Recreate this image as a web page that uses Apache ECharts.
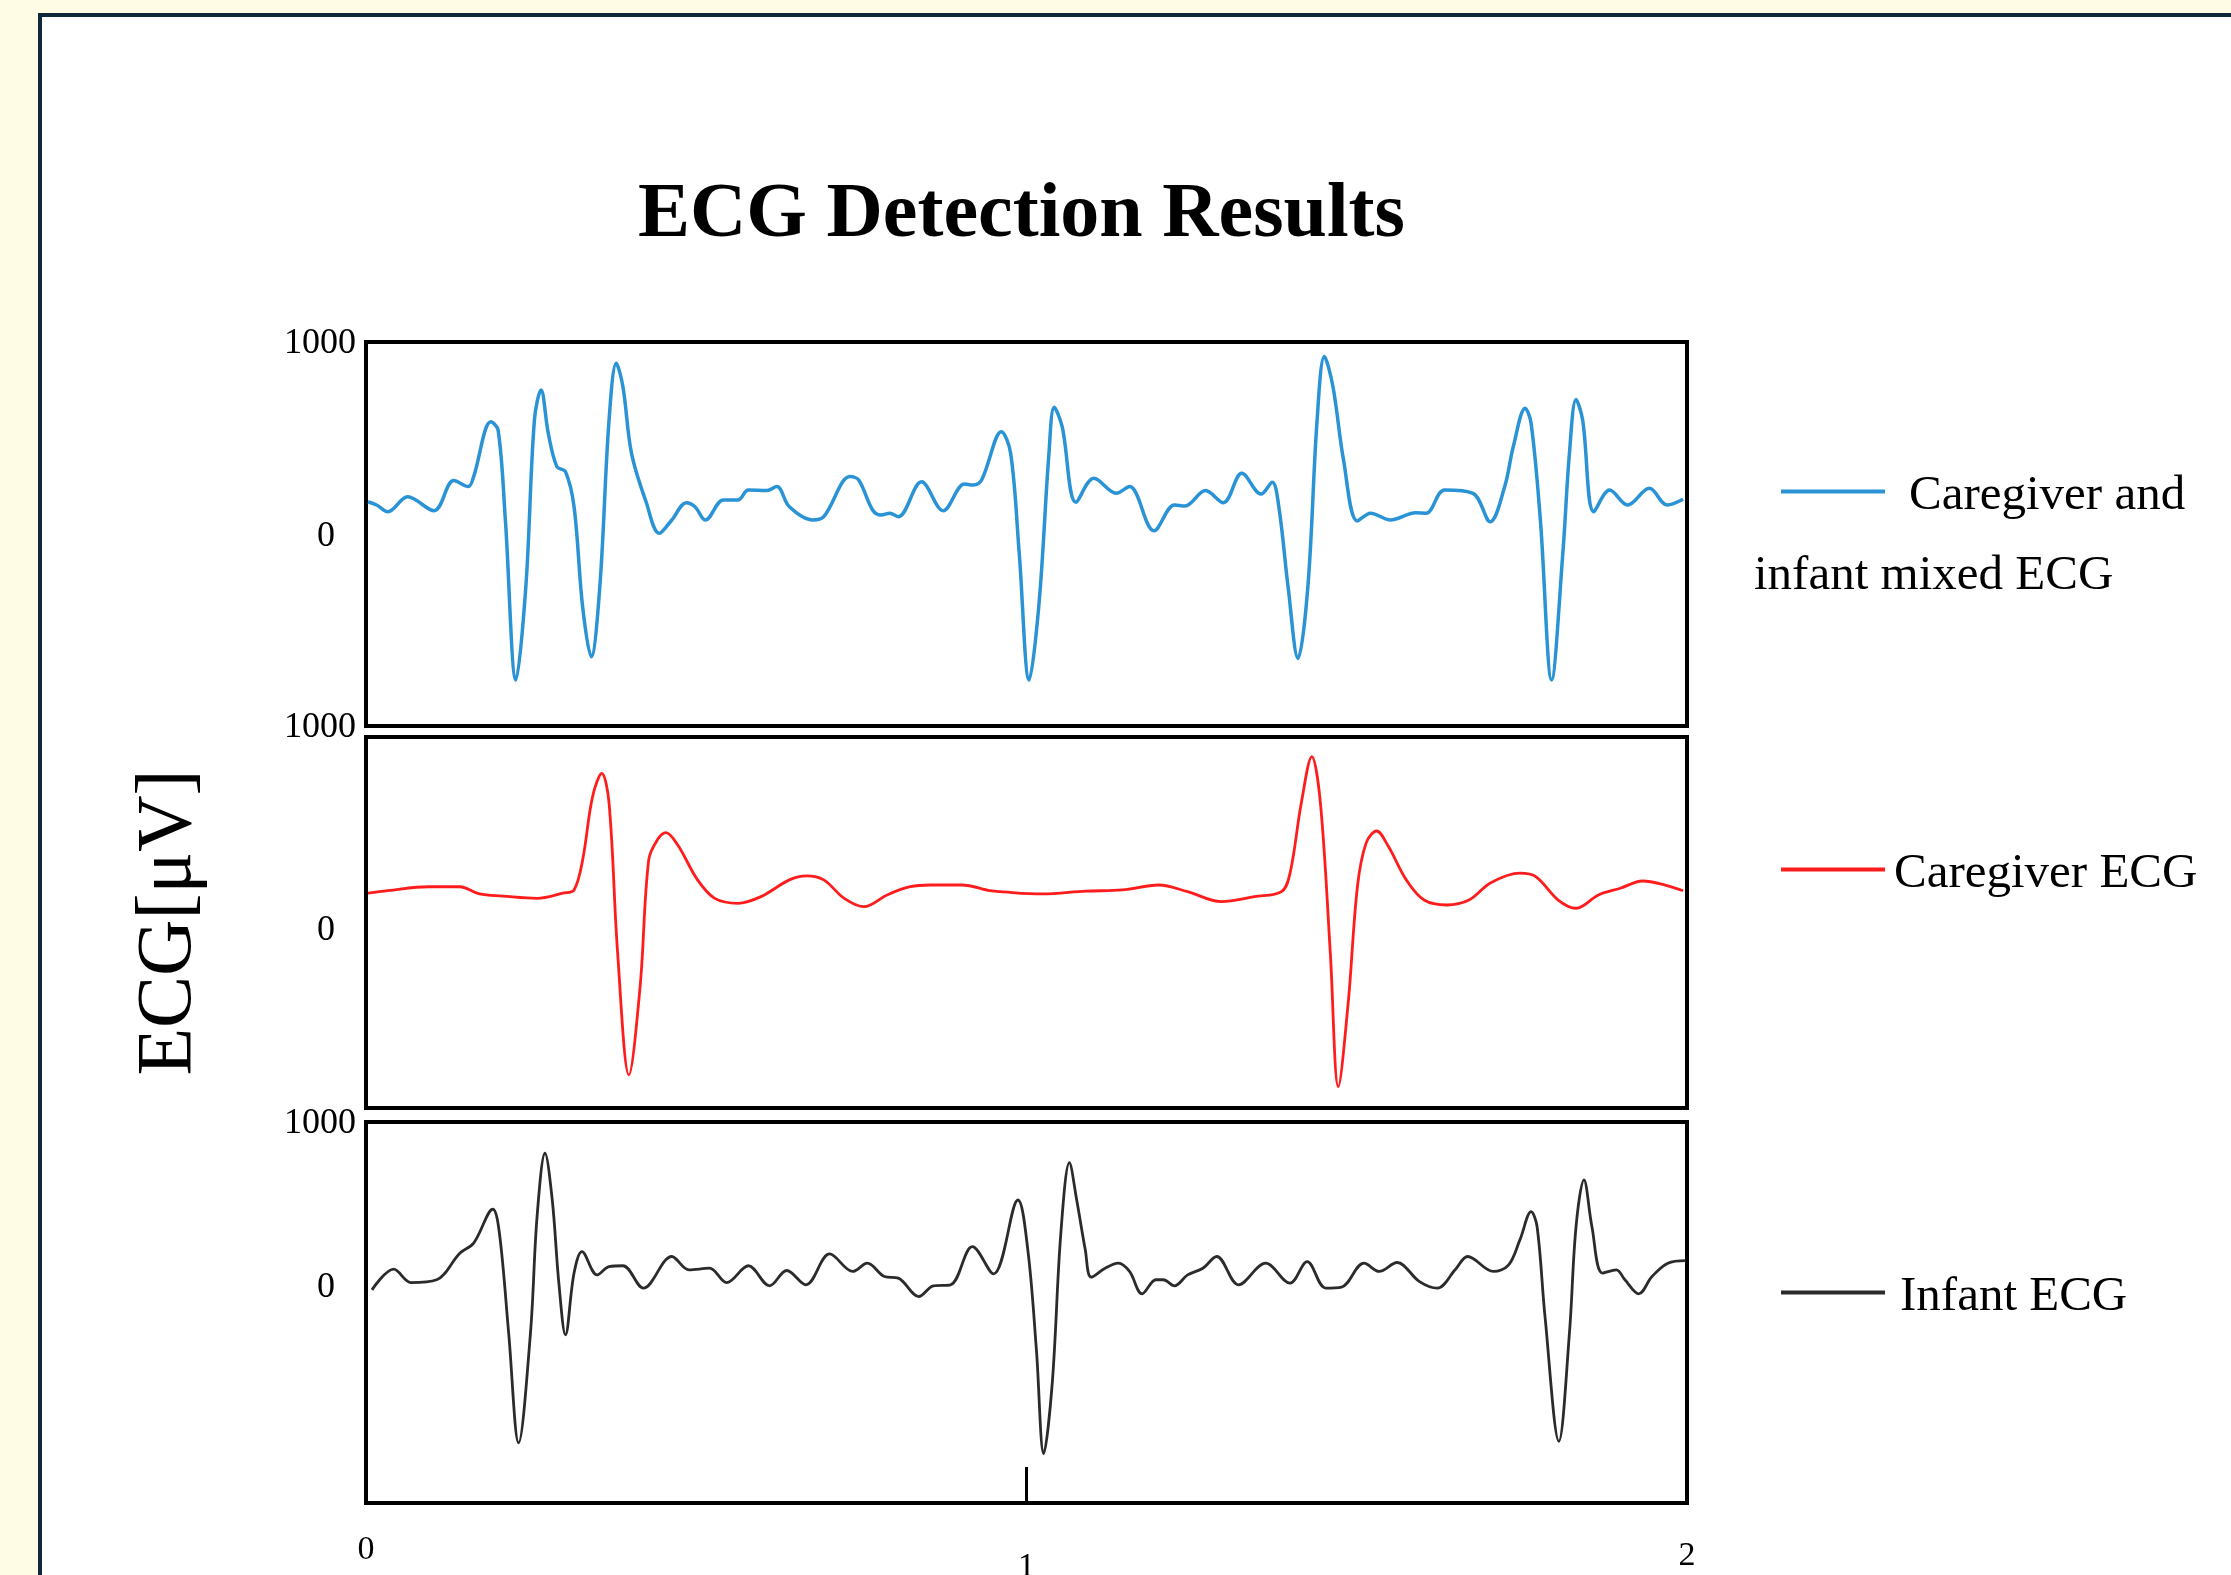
<!DOCTYPE html>
<html>
<head>
<meta charset="utf-8">
<script src="https://cdn.jsdelivr.net/npm/echarts@6/dist/echarts.min.js"></script>
<style>
html,body{margin:0;padding:0;background:#fffce6;}
#chart{width:2231px;height:1575px;}
</style>
</head>
<body>
<div id="chart"></div>
<script>
// ---------- data (time in s, amplitude in µV) ----------
const titleText = 'ECG Detection Results';
const yAxisName = 'ECG[μV]';
const seriesNames = ['Caregiver and infant mixed ECG', 'Caregiver ECG', 'Infant ECG'];
const xTickLabels = [0, 1, 2];

const mixedT = [0.003,0.016,0.033,0.063,0.103,0.133,0.155,0.163,0.189,0.200,0.211,0.227,0.242,0.255,0.265,0.276,0.289,0.302,0.315,0.328,0.341,0.354,0.368,0.379,0.389,0.402,0.424,0.444,0.463,0.485,0.498,0.514,0.541,0.563,0.579,0.607,0.622,0.641,0.676,0.693,0.733,0.746,0.767,0.780,0.793,0.806,0.841,0.874,0.906,0.919,0.932,0.962,0.976,0.989,1.004,1.019,1.034,1.042,1.054,1.075,1.102,1.136,1.156,1.193,1.224,1.240,1.271,1.298,1.326,1.355,1.372,1.382,1.396,1.411,1.426,1.440,1.451,1.464,1.480,1.501,1.521,1.551,1.589,1.605,1.633,1.676,1.702,1.724,1.737,1.755,1.764,1.778,1.795,1.812,1.822,1.832,1.842,1.859,1.883,1.910,1.943,1.970,1.994];
const mixedV = [168,151,116,194,121,278,247,299,585,542,73,-760,-274,594,750,524,351,325,142,-379,-639,-274,594,889,767,420,168,4,73,163,142,73,177,177,229,226,247,142,73,90,299,281,125,99,108,90,272,121,260,255,281,533,420,-101,-760,-361,420,660,559,165,290,212,247,17,151,146,226,163,316,208,269,142,-274,-648,-274,594,924,767,385,68,108,73,111,108,229,212,64,247,455,655,576,73,-760,-101,420,701,594,116,229,151,238,151,181];

const caregiverT = [0.003,0.033,0.094,0.142,0.172,0.207,0.259,0.298,0.315,0.328,0.343,0.357,0.368,0.381,0.398,0.415,0.428,0.441,0.454,0.472,0.502,0.528,0.563,0.598,0.641,0.667,0.693,0.724,0.754,0.789,0.824,0.854,0.902,0.945,0.960,1.024,1.090,1.145,1.200,1.244,1.295,1.345,1.386,1.399,1.416,1.432,1.445,1.460,1.472,1.487,1.501,1.514,1.530,1.548,1.575,1.602,1.636,1.670,1.703,1.747,1.771,1.805,1.832,1.866,1.899,1.933,1.967,1.994];
const caregiverV = [179,192,213,213,175,164,152,179,196,354,686,809,652,-137,-776,-312,354,459,497,432,249,152,126,161,249,270,249,152,108,170,213,222,222,192,187,175,190,196,222,187,135,161,187,284,652,897,652,-137,-838,-399,213,441,506,424,249,143,117,143,234,284,266,143,100,170,205,243,222,192];

const infantT = [0.009,0.042,0.068,0.107,0.142,0.163,0.192,0.202,0.216,0.231,0.249,0.259,0.271,0.282,0.292,0.302,0.315,0.327,0.350,0.368,0.389,0.420,0.463,0.489,0.520,0.546,0.579,0.611,0.637,0.666,0.702,0.737,0.759,0.785,0.806,0.837,0.859,0.885,0.918,0.950,0.987,1.002,1.015,1.026,1.039,1.052,1.065,1.076,1.089,1.098,1.119,1.139,1.156,1.175,1.196,1.207,1.224,1.244,1.267,1.288,1.321,1.362,1.399,1.425,1.453,1.477,1.511,1.534,1.561,1.595,1.622,1.649,1.668,1.707,1.730,1.747,1.764,1.773,1.785,1.806,1.822,1.832,1.844,1.856,1.872,1.893,1.906,1.927,1.947,1.971,1.998];
const infantV = [-31,96,14,31,194,256,464,317,-296,-971,-296,419,808,521,10,-307,72,204,61,112,117,-20,174,92,102,14,117,-6,88,0,190,82,133,51,41,-72,-6,0,235,67,521,215,-399,-1037,-603,317,750,521,215,47,102,133,82,-55,31,31,-6,61,102,174,0,133,10,143,-20,-14,133,82,137,20,-20,92,174,82,123,276,450,358,-194,-961,-296,358,644,358,72,92,31,-55,51,133,149];

// ---------- chart ----------
const zip = (t, v) => t.map((x, i) => [x, v[i]]);
const SERIF = 'Liberation Serif';
const colors = ['#2a93d5', '#ff1c1c', '#2b2b2b'];

const grids = [
  {left: 366, top: 342, width: 1321, height: 384},
  {left: 366, top: 737, width: 1321, height: 371},
  {left: 366, top: 1122, width: 1321, height: 381}
].map(g => Object.assign(g, {
  show: true, borderColor: '#000', borderWidth: 4, backgroundColor: 'transparent',
  containLabel: false, outerBoundsMode: 'none'
}));

const yLabelBase = {
  fontFamily: SERIF, fontSize: 36, color: '#000', margin: 10,
  formatter: v => v === 0 ? '{z|0}' : '{k|' + Math.abs(v) + '}',
  rich: {
    z: {fontFamily: SERIF, fontSize: 36, color: '#000', padding: [6, 21, 0, 0]},
    k: {fontFamily: SERIF, fontSize: 36, color: '#000', padding: [4, 0, 0, 0]}
  }
};

function yAxis(i, min, max, labels, extra) {
  return Object.assign({
    type: 'value', gridIndex: i, min: min, max: max,
    axisLine: {show: false, onZero: false}, axisTick: {show: false}, splitLine: {show: false},
    axisLabel: Object.assign({}, yLabelBase, {customValues: labels})
  }, extra || {});
}

function xAxis(i, showLabels) {
  const ax = {
    type: 'value', gridIndex: i, min: 0, max: 2, interval: 1, position: 'bottom',
    axisLine: {show: false, onZero: false}, splitLine: {show: false},
    axisTick: {show: false}, axisLabel: {show: false}
  };
  if (showLabels) {
    ax.axisTick = {show: true, inside: true, length: 36, customValues: [1], lineStyle: {color: '#000', width: 3}};
    ax.axisLabel = {
      show: true, customValues: xTickLabels, margin: 30,
      fontFamily: SERIF, fontSize: 34, color: '#000',
      formatter: v => v === 1 ? '{one|1}' : (v === 2 ? '{two|2}' : String(v)),
      rich: {
        one: {fontFamily: SERIF, fontSize: 34, color: '#000', padding: [17, 0, 0, 0]},
        two: {fontFamily: SERIF, fontSize: 34, color: '#000', padding: [6, 0, 0, 0]}
      }
    };
  }
  return ax;
}

function legendFor(idx, top, label, pad) {
  return {
    data: [seriesNames[idx]], left: 1781, top: top, padding: 0,
    orient: 'vertical', selectedMode: false,
    icon: 'rect', itemWidth: 104, itemHeight: 4,
    formatter: () => '{p|' + label + '}',
    textStyle: {
      fontFamily: SERIF, fontSize: 49, color: '#000',
      rich: {p: {fontFamily: SERIF, fontSize: 49, color: '#000', padding: [10, 0, 0, pad]}}
    }
  };
}

const chart = echarts.init(document.getElementById('chart'), null, {renderer: 'canvas'});
chart.setOption({
  backgroundColor: '#fffce6',
  animation: false,
  title: {
    text: titleText, left: 633, top: 172,
    textStyle: {fontFamily: SERIF, fontSize: 78, fontWeight: 'bold', color: '#000'}
  },
  graphic: [
    {type: 'rect', z: -10, silent: true, shape: {x: 40, y: 15, width: 2400, height: 1800},
     style: {fill: '#ffffff', stroke: '#10293a', lineWidth: 4}},
    {type: 'text', left: 1754, top: 552, silent: true,
     style: {text: 'infant mixed ECG', fontFamily: SERIF, fontSize: 49, fill: '#000'}}
  ],
  legend: [
    legendFor(0, 472, 'Caregiver and', 19),
    legendFor(1, 850, 'Caregiver ECG', 4),
    legendFor(2, 1273, 'Infant ECG', 10)
  ],
  grid: grids,
  xAxis: [xAxis(0, false), xAxis(1, false), xAxis(2, true)],
  yAxis: [
    yAxis(0, -1000, 1000, [-1000, 0, 1000]),
    yAxis(1, -950, 1000, [0], {
      name: yAxisName, nameLocation: 'middle', nameRotate: 90, nameGap: 157,
      nameTextStyle: {fontFamily: SERIF, fontSize: 78, color: '#000'}
    }),
    yAxis(2, -1340, 1000, [0, 1000])
  ],
  series: [
    {name: seriesNames[0], type: 'line', xAxisIndex: 0, yAxisIndex: 0, data: zip(mixedT, mixedV),
     showSymbol: false, symbol: 'none', smooth: 0.35, lineStyle: {color: colors[0], width: 3.5}, itemStyle: {color: colors[0]}},
    {name: seriesNames[1], type: 'line', xAxisIndex: 1, yAxisIndex: 1, data: zip(caregiverT, caregiverV),
     showSymbol: false, symbol: 'none', smooth: 0.35, lineStyle: {color: colors[1], width: 2.8}, itemStyle: {color: colors[1]}},
    {name: seriesNames[2], type: 'line', xAxisIndex: 2, yAxisIndex: 2, data: zip(infantT, infantV),
     showSymbol: false, symbol: 'none', smooth: 0.35, lineStyle: {color: colors[2], width: 2.8}, itemStyle: {color: colors[2]}}
  ]
});
</script>
</body>
</html>
